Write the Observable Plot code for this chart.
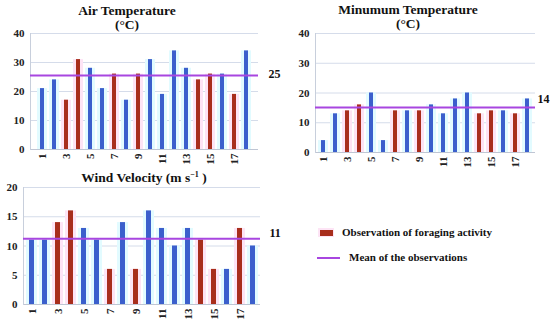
<!DOCTYPE html>
<html><head><meta charset="utf-8">
<script src="https://cdn.jsdelivr.net/npm/d3@7"></script>
<script src="https://cdn.jsdelivr.net/npm/@observablehq/plot@0.6"></script>
<style>
body{margin:0;background:#fff;}
#wrap{position:relative;width:550px;height:324px;overflow:hidden;font-family:"Liberation Serif","DejaVu Serif",serif;font-weight:bold;color:#111;}
.title{position:absolute;text-align:center;font-size:13.5px;line-height:14px;font-weight:bold;font-family:"Liberation Serif","DejaVu Serif",serif;}
.lg{position:absolute;font-size:11px;white-space:nowrap;font-family:"Liberation Serif","DejaVu Serif",serif;}
</style></head>
<body><div id="wrap"></div>
<script>
const obs = [1,2,3,4,5,6,7,8,9,10,11,12,13,14,15,16,17,18];
const foraging = [3,4,7,9,14,15,17];
const airTemp = [21,24,17,31,28,21,26,17,26,31,19,34,28,24,26,26,19,34];
const minTemp = [4,13,14,16,20,4,14,14,14,16,13,18,20,13,14,14,13,18];
const wind = [11,11,14,16,13,11,6,14,6,16,13,10,13,11,6,6,13,10];
const airMean = 25.5, minMean = 15.1, windMean = 11.25;
const airLabel = "25", minLabel = "14", windLabel = "11";
const xTicks = [1,3,5,7,9,11,13,15,17];

const BLUE = "#3b5fcc", RED = "#a82e1c", PURPLE = "#a846e0";
const FONT = "'Liberation Serif', 'DejaVu Serif', serif";
const wrap = document.getElementById("wrap");

function panel(values, opts){
  const data = obs.map((o,i)=>({o, v: values[i], f: foraging.includes(o)}));
  const p = Plot.plot({
    width: opts.width, height: opts.height,
    marginLeft: opts.ml, marginRight: opts.mr, marginTop: opts.mt, marginBottom: opts.mb,
    style:{background:"transparent", fontSize:"11px", fontFamily: FONT, fontWeight:"bold", color:"#222", overflow:"visible"},
    x:{type:"band", domain: obs, paddingInner:0.63, paddingOuter:0.31, label:null, ticks: xTicks, tickSize:0, tickRotate:-90, tickPadding:4},
    y:{domain:[0, opts.ymax], ticks: opts.yticks, label:null, tickSize:0, tickPadding:6, grid:false},
    marks:[
      Plot.ruleY(opts.yticks.filter(t=>t>0), {stroke:"#d5dcea", strokeWidth:1}),
      Plot.barY(data, {x:"o", y:"v", fill:d=>d.f?"#fde4f5":"#e2fbff", insetLeft:-3, insetRight:-3}),
      Plot.barY(data, {x:"o", y:"v", fill:d=>d.f?RED:BLUE}),
      Plot.ruleY([0], {stroke:"#bfc6d4", strokeWidth:1}),
      Plot.frame({anchor:"left", stroke:"#c8cfdc"}),
      Plot.ruleY([opts.mean], {stroke:PURPLE, strokeWidth:2}),
      Plot.text([opts.label], {frameAnchor:"right", y:()=>opts.mean, text:d=>d, dx:opts.ldx, dy:opts.ldy, textAnchor:"start", fontSize:12, fill:"#111"})
    ]
  });
  p.style.position="absolute"; p.style.left=opts.left+"px"; p.style.top=opts.top+"px";
  wrap.appendChild(p);
}

panel(airTemp, {left:0, top:30, width:280, height:145, ml:30, mr:22, mt:3, mb:26, ymax:40, yticks:[0,10,20,30,40], mean:airMean, label:airLabel, ldx:10, ldy:-1});
panel(minTemp, {left:280, top:30, width:270, height:148, ml:35, mr:15, mt:3, mb:26, ymax:40, yticks:[0,10,20,30,40], mean:minMean, label:minLabel, ldx:2, ldy:-8});
panel(wind, {left:0, top:184, width:290, height:140, ml:23, mr:30, mt:3, mb:20, ymax:20, yticks:[0,5,10,15,20], mean:windMean, label:windLabel, ldx:9, ldy:-6});

function title(html, cx, y){
  const d=document.createElement("div"); d.className="title"; d.innerHTML=html;
  d.style.left=(cx-120)+"px"; d.style.top=y+"px"; d.style.width="240px"; wrap.appendChild(d);
}
title("Air Temperature<br>(°C)", 127, 4);
title("Minumum Temperature<br>(°C)", 408, 3);
title("Wind Velocity (m s<sup style='font-size:8px;line-height:0'>−1</sup> )", 144, 171);

// legend
const sw=document.createElement("div");
sw.style.cssText="position:absolute;left:318px;top:228px;width:16px;height:9px;background:#fde4f5;";
const sw2=document.createElement("div");
sw2.style.cssText="position:absolute;left:320px;top:230px;width:13px;height:6px;background:"+RED+";";
wrap.appendChild(sw); wrap.appendChild(sw2);
const l1=document.createElement("div"); l1.className="lg"; l1.textContent="Observation of foraging activity";
l1.style.left="342px"; l1.style.top="226px"; wrap.appendChild(l1);
const ln=document.createElement("div");
ln.style.cssText="position:absolute;left:317px;top:257px;width:23px;height:2px;background:"+PURPLE+";";
wrap.appendChild(ln);
const l2=document.createElement("div"); l2.className="lg"; l2.textContent="Mean of the observations";
l2.style.left="349px"; l2.style.top="251px"; wrap.appendChild(l2);
</script></body></html>
